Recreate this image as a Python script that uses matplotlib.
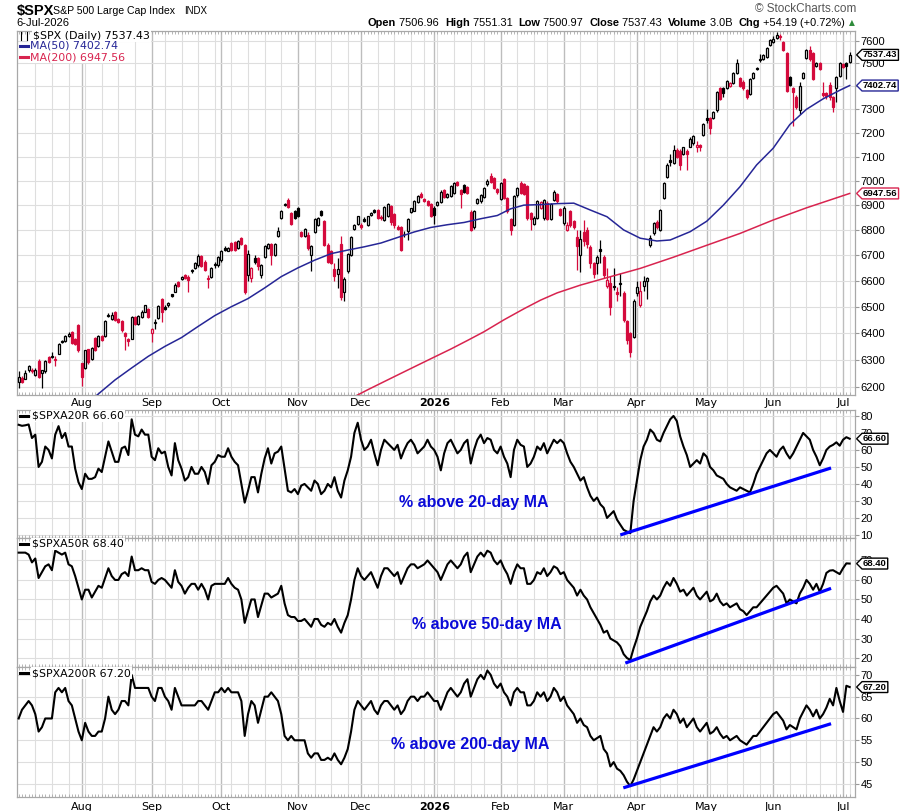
import numpy as np
import pandas as pd
import matplotlib
matplotlib.use("Agg")
import matplotlib.pyplot as plt
from matplotlib.path import Path
from matplotlib.lines import Line2D
from matplotlib.ticker import NullLocator
from matplotlib.transforms import blended_transform_factory as btf
from matplotlib import font_manager

plt.rcParams['font.family'] = ['DejaVu Sans']

# narrow bold for the value tags, if available
_names = {f.name for f in font_manager.fontManager.ttflist}
TAGFONT = 'Liberation Sans Narrow' if 'Liberation Sans Narrow' in _names else 'Liberation Sans'
TAGSIZE = 8.2 if TAGFONT == 'Liberation Sans Narrow' else 6.8

# --- trading calendar ---
holidays = ["2025-09-01", "2025-11-27", "2025-12-25", "2026-01-01", "2026-01-19",
            "2026-02-16", "2026-04-03", "2026-05-25", "2026-06-19", "2026-07-03"]
dates = pd.bdate_range("2025-07-07", "2026-07-06")
dates = dates[~dates.isin(pd.to_datetime(holidays))]

# --- $SPX daily candles ---
opens = [6218, 6233, 6230, 6263, 6264, 6245, 6294, 6250, 6257, 6310, 6310, 6300, 6323, 6370, 6370, 6390, 6405, 6377, 6430, 6287,
         6270, 6339, 6304, 6380, 6351, 6389, 6389, 6470, 6453, 6479, 6453, 6446, 6401, 6376, 6378, 6462, 6434, 6462, 6481, 6492,
         6401, 6438, 6457, 6531, 6497, 6505, 6548, 6557, 6596, 6606, 6624, 6615, 6640, 6649, 6660, 6695, 6675, 6612, 6615, 6664,
         6660, 6680, 6730, 6718, 6748, 6752, 6728, 6768, 6741, 6622, 6609, 6688, 6688, 6622, 6692, 6730, 6746, 6702, 6776, 6849,
         6905, 6922, 6868, 6876, 6889, 6790, 6775, 6780, 6700, 6792, 6820, 6876, 6835, 6741, 6715, 6646, 6627, 6744, 6557, 6636,
         6700, 6802, 6824, 6821, 6845, 6820, 6862, 6880, 6880, 6852, 6840, 6855, 6895, 6865, 6810, 6810, 6785, 6797, 6873, 6878,
         6913, 6945, 6925, 6915, 6906, 6890, 6900, 6914, 6960, 6932, 6936, 6950, 6994, 6960, 6983, 6975, 6873, 6810, 6909, 6915,
         6935, 6985, 7020, 7010, 6966, 6926, 7005, 6930, 6843, 6820, 6940, 6990, 6986, 6978, 6868, 6825, 6849, 6890, 6846, 6910,
         6842, 6920, 6945, 6885, 6828, 6800, 6876, 6835, 6770, 6700, 6793, 6800, 6733, 6668, 6668, 6725, 6694, 6578, 6590, 6580,
         6557, 6592, 6553, 6445, 6400, 6386, 6553, 6507, 6580, 6600, 6740, 6786, 6833, 6800, 6930, 7015, 7085, 7072, 7128, 7124,
         7110, 7124, 7142, 7156, 7140, 7148, 7190, 7262, 7262, 7262, 7296, 7391, 7393, 7393, 7400, 7415, 7456, 7434, 7420, 7383,
         7367, 7437, 7480, 7520, 7518, 7530, 7580, 7596, 7612, 7615, 7595, 7546, 7441, 7390, 7354, 7296, 7437, 7525, 7560, 7545,
         7488, 7503, 7370, 7370, 7405, 7354, 7392, 7445, 7498, 7500, 7506.96]
highs = [6257, 6240, 6263, 6282, 6268, 6270, 6302, 6263, 6300, 6313, 6330, 6313, 6361, 6374, 6392, 6404, 6408, 6382, 6434, 6290,
         6338, 6342, 6348, 6384, 6392, 6392, 6450, 6476, 6480, 6483, 6456, 6450, 6405, 6382, 6466, 6465, 6470, 6486, 6508, 6495,
         6419, 6453, 6506, 6535, 6505, 6518, 6550, 6590, 6600, 6620, 6628, 6622, 6645, 6672, 6705, 6700, 6680, 6622, 6652, 6675,
         6695, 6720, 6735, 6733, 6752, 6756, 6760, 6772, 6745, 6720, 6655, 6700, 6692, 6666, 6742, 6748, 6750, 6748, 6810, 6880,
         6910, 6930, 6872, 6880, 6893, 6795, 6806, 6790, 6740, 6846, 6853, 6880, 6840, 6750, 6720, 6670, 6688, 6775, 6616, 6708,
         6775, 6825, 6858, 6826, 6850, 6858, 6872, 6885, 6884, 6860, 6896, 6910, 6900, 6868, 6818, 6815, 6795, 6849, 6890, 6920,
         6940, 6953, 6930, 6920, 6910, 6895, 6918, 6960, 6965, 6950, 6982, 6996, 6998, 6965, 6988, 6980, 6880, 6880, 6928, 6945,
         6975, 7005, 7030, 7015, 6970, 6995, 7010, 6935, 6848, 6942, 6975, 6998, 6990, 6984, 6872, 6855, 6920, 6916, 6925, 6915,
         6908, 6960, 6950, 6890, 6895, 6830, 6880, 6840, 6800, 6800, 6840, 6810, 6740, 6675, 6700, 6760, 6700, 6650, 6620, 6650,
         6575, 6630, 6560, 6450, 6405, 6530, 6600, 6600, 6620, 6615, 6781, 6832, 6838, 6885, 6995, 7072, 7110, 7150, 7135, 7130,
         7142, 7130, 7180, 7190, 7165, 7152, 7240, 7300, 7266, 7292, 7380, 7396, 7398, 7428, 7418, 7462, 7520, 7440, 7425, 7388,
         7436, 7462, 7485, 7540, 7540, 7572, 7610, 7620, 7640, 7630, 7600, 7550, 7445, 7395, 7360, 7420, 7460, 7565, 7575, 7550,
         7505, 7508, 7420, 7374, 7420, 7358, 7445, 7505, 7502, 7505, 7551.31]
lows = [6196, 6214, 6228, 6255, 6250, 6239, 6234, 6196, 6253, 6288, 6307, 6276, 6320, 6362, 6368, 6386, 6360, 6356, 6330, 6205,
        6265, 6285, 6300, 6332, 6348, 6370, 6385, 6462, 6450, 6447, 6437, 6405, 6338, 6350, 6376, 6432, 6430, 6458, 6479, 6458,
        6365, 6414, 6453, 6440, 6486, 6500, 6538, 6555, 6575, 6603, 6605, 6557, 6630, 6645, 6655, 6652, 6637, 6570, 6612, 6649,
        6655, 6675, 6718, 6715, 6718, 6715, 6725, 6740, 6550, 6600, 6596, 6665, 6640, 6610, 6688, 6725, 6660, 6698, 6772, 6845,
        6895, 6888, 6820, 6845, 6850, 6770, 6770, 6722, 6636, 6788, 6815, 6858, 6738, 6670, 6665, 6600, 6570, 6527, 6522, 6630,
        6695, 6798, 6820, 6805, 6830, 6815, 6858, 6870, 6845, 6838, 6836, 6850, 6820, 6808, 6800, 6715, 6770, 6760, 6870, 6875,
        6910, 6930, 6912, 6895, 6850, 6825, 6896, 6910, 6930, 6928, 6932, 6946, 6980, 6890, 6950, 6945, 6795, 6805, 6905, 6910,
        6930, 6980, 6990, 6965, 6945, 6920, 6925, 6870, 6780, 6815, 6935, 6945, 6940, 6840, 6800, 6820, 6845, 6886, 6840, 6838,
        6838, 6915, 6910, 6855, 6820, 6795, 6812, 6805, 6640, 6635, 6735, 6730, 6650, 6610, 6625, 6668, 6610, 6570, 6468, 6565,
        6520, 6540, 6440, 6360, 6311, 6380, 6540, 6500, 6560, 6530, 6733, 6780, 6805, 6795, 6925, 7010, 7060, 7068, 7095, 7045,
        7105, 7045, 7138, 7150, 7120, 7125, 7185, 7240, 7196, 7258, 7290, 7340, 7355, 7388, 7395, 7410, 7452, 7395, 7385, 7345,
        7362, 7432, 7470, 7505, 7515, 7525, 7575, 7590, 7608, 7605, 7555, 7375, 7400, 7230, 7300, 7280, 7430, 7520, 7512, 7425,
        7484, 7470, 7355, 7345, 7340, 7290, 7330, 7440, 7480, 7430, 7500.97]
closes = [6237, 6219, 6251, 6276, 6260, 6263, 6236, 6261, 6294, 6292, 6315, 6302, 6360, 6365, 6388, 6398, 6364, 6360, 6336, 6236,
          6335, 6291, 6344, 6336, 6388, 6373, 6446, 6466, 6470, 6450, 6440, 6410, 6389, 6370, 6462, 6436, 6466, 6481, 6505, 6462,
          6414, 6442, 6502, 6479, 6492, 6514, 6540, 6583, 6580, 6615, 6609, 6602, 6636, 6668, 6697, 6657, 6643, 6608, 6649, 6660,
          6691, 6715, 6722, 6729, 6722, 6719, 6755, 6745, 6557, 6704, 6649, 6675, 6657, 6662, 6738, 6743, 6700, 6743, 6795, 6876,
          6900, 6892, 6825, 6849, 6855, 6775, 6802, 6730, 6735, 6842, 6849, 6862, 6741, 6675, 6670, 6618, 6644, 6537, 6605, 6704,
          6771, 6821, 6855, 6810, 6835, 6855, 6869, 6873, 6849, 6846, 6892, 6905, 6832, 6821, 6805, 6720, 6783, 6842, 6887, 6916,
          6937, 6935, 6918, 6900, 6855, 6862, 6914, 6955, 6935, 6945, 6978, 6992, 6984, 6947, 6955, 6950, 6800, 6876, 6923, 6940,
          6970, 6998, 6995, 6970, 6952, 6990, 6930, 6876, 6800, 6937, 6970, 6950, 6945, 6846, 6842, 6849, 6916, 6912, 6920, 6842,
          6903, 6955, 6916, 6862, 6889, 6821, 6818, 6810, 6735, 6765, 6755, 6745, 6668, 6625, 6694, 6718, 6623, 6603, 6500, 6577,
          6550, 6588, 6450, 6372, 6329, 6522, 6577, 6560, 6600, 6612, 6768, 6826, 6813, 6880, 6990, 7066, 7078, 7128, 7100, 7065,
          7138, 7110, 7175, 7185, 7150, 7142, 7237, 7255, 7222, 7288, 7376, 7346, 7371, 7423, 7412, 7456, 7500, 7400, 7390, 7354,
          7430, 7456, 7474, 7515, 7535, 7567, 7604, 7610, 7625, 7620, 7560, 7380, 7405, 7376, 7310, 7400, 7456, 7560, 7518, 7430,
          7500, 7475, 7362, 7358, 7354, 7310, 7441, 7500, 7485, 7490, 7537.43]

# moving averages (read at roughly weekly steps)
ma50_idx = [23, 29, 34, 39, 44, 49, 54, 59, 64, 69, 74, 79, 84, 89, 94, 99, 104, 109, 114, 119, 124, 129, 134,
            139, 144, 148, 152, 157, 162, 167, 172, 177, 182, 187, 192, 196, 202, 207, 212, 217, 222, 227, 232,
            237, 242, 247, 250]
ma50_val = [6165, 6226, 6270, 6313, 6350, 6383, 6425, 6466, 6500, 6531, 6572, 6616, 6650, 6680, 6706, 6720, 6733,
            6748, 6770, 6792, 6810, 6821, 6830, 6845, 6858, 6885, 6900, 6902, 6906, 6908, 6880, 6853, 6800, 6767,
            6756, 6760, 6793, 6835, 6900, 6975, 7065, 7135, 7235, 7300, 7345, 7382, 7402.74]
ma200_idx = [101, 105, 110, 115, 120, 125, 130, 135, 140, 146, 152, 157, 162, 169, 177, 187, 197, 207, 217, 227, 237, 250]
ma200_val = [6165, 6190, 6220, 6250, 6280, 6310, 6340, 6372, 6405, 6450, 6492, 6525, 6553, 6583, 6612, 6648, 6692,
             6739, 6786, 6840, 6889, 6947.56]

# --- breadth: % of S&P 500 stocks above moving average ---
a20 = [74.8, 74.2, 74.5, 75, 67, 69, 50, 53, 62, 60, 55, 69, 74, 67, 70, 62, 62, 49, 41, 37,
       46, 43, 43, 44, 49, 47, 56, 65, 59, 53, 53, 61, 62, 57, 78, 69, 68, 72, 69, 69,
       56, 54, 61, 58, 59, 50, 45, 64, 54, 49, 42, 44, 50, 46, 46, 50, 47, 40, 51, 53,
       57, 56, 56, 61, 56, 53, 51, 40, 29, 36, 44, 44, 35, 46, 55, 61, 52, 58, 59, 62,
       49, 36, 35, 37, 34, 39, 40, 38, 36, 42, 40, 34, 36, 40, 38, 44, 36, 32, 42, 48,
       56, 70, 76, 66, 60, 62, 66, 58, 51, 60, 66, 64, 62, 60, 63, 55, 60, 64, 66, 63,
       58, 60, 62, 66, 62, 60, 56, 48, 58, 64, 66, 62, 58, 60, 64, 66, 52, 60, 66, 69,
       64, 67, 66, 60, 58, 62, 56, 52, 44, 60, 66, 63, 62, 50, 52, 56, 62, 60, 64, 58,
       62, 66, 64, 66, 64, 58, 53, 50, 46, 42, 44, 38, 33, 30, 32, 28, 26, 20, 22, 24,
       19, 16, 13, 12, 11, 30, 42, 54, 62, 66, 72, 70, 66, 65, 70, 74, 78, 80, 77, 68,
       62, 57, 50, 52, 54, 52, 58, 56, 50, 48, 45, 44, 43, 40, 38, 37, 36, 38, 37, 36,
       35, 40, 46, 50, 54, 58, 60, 58, 56, 60, 62, 58, 55, 58, 62, 66, 70, 68, 66, 60,
       56, 51, 55, 60, 62, 63, 64.5, 62.5, 66, 67.5, 66.6]
a50 = [74, 74, 74, 73, 69, 71, 61, 64, 67, 68, 65, 75, 74, 73, 74, 68, 67, 62, 56, 50,
       55, 55, 51, 54, 57, 56, 61, 66, 62, 60, 60, 63, 64, 62, 72, 65, 65, 66, 65, 65,
       59, 58, 60, 61, 60, 58, 56, 65, 59, 57, 53, 56, 58, 58, 55, 58, 55, 50, 57, 58,
       58, 58, 58, 61, 58, 56, 55, 50, 38, 44, 50, 50, 41, 47, 53, 53, 51, 52, 53, 57,
       48, 42, 41, 41, 39, 39, 40, 38, 36, 40, 40, 37, 36, 38, 37, 40, 36, 33, 38, 42,
       50, 60, 66, 62, 60, 62, 64, 60, 56, 62, 66, 66, 64, 62, 64, 58, 62, 66, 68, 68,
       66, 67, 68, 70, 68, 66, 64, 60, 64, 68, 70, 68, 66, 68, 72, 74, 64, 68, 72, 74,
       72, 75, 74, 70, 68, 70, 66, 63, 58, 64, 68, 66, 66, 58, 58, 60, 64, 63, 66, 62,
       64, 67, 66, 63, 64, 60, 58, 56, 52, 55, 52, 50, 46, 43, 40, 37, 33, 34, 30, 29,
       28, 26, 22, 20, 19, 25, 30, 36, 40, 44, 49, 52, 50, 52, 56, 59, 57, 61, 58, 54,
       55, 52, 54, 56, 52, 50, 52, 54, 49, 50, 53, 49, 47, 48, 46, 47, 48, 45, 44, 42,
       44, 46, 46, 48, 50, 52, 54, 56, 57, 55, 53, 48, 50, 49, 48, 53, 56, 60, 58, 55,
       58, 54, 58, 63.6, 64.8, 65, 64, 63, 66, 68.5, 68.4]
a200 = [60, 62, 63, 64, 63, 61, 57, 58, 60, 60, 60, 66, 67, 66, 67, 64, 63, 60, 57, 55,
        59, 57, 56, 56, 57, 57, 60, 65, 62, 61, 62, 64, 64, 63, 70, 67, 67, 67, 67, 67,
        65, 64, 67, 67, 65, 64, 62, 67, 65, 63, 63, 63, 63, 63, 64, 64, 63, 62, 64, 66,
        66, 67, 66, 67, 66, 66, 66, 64, 56, 61, 64, 63, 59, 62, 65, 65, 66, 65, 64, 61,
        56, 55, 56, 55, 55, 55, 55, 52, 51, 52, 52, 50.5, 50.5, 51, 50.5, 52, 50.5, 49.5, 51, 53,
        57, 62, 64, 63, 62, 63, 64, 62, 61, 63, 64, 64, 63, 62, 63, 61, 62, 64, 65, 65,
        64, 65, 65, 66, 65, 64, 64, 62, 64, 66, 67, 66, 65, 66, 68, 69, 65, 67, 69, 70,
        69, 71, 70, 68, 67, 68, 66, 65, 63, 66, 67, 66, 66, 63, 63, 64, 66, 65, 66, 64,
        65, 67, 66, 64, 65, 63, 62, 61, 59, 60, 58.5, 58, 56, 55, 55.5, 56, 53, 52, 49, 50,
        48.5, 48, 47, 45.5, 44.5, 46, 48, 50, 52, 54, 56, 58, 57, 58, 60, 61, 60, 62, 61, 59,
        60, 58, 59, 60, 58, 57, 58, 59, 56.5, 57, 58, 56.5, 55.5, 56, 55, 55.5, 56, 55, 54.5, 54,
        55, 56, 56, 57, 58, 59, 60, 61, 61.5, 60.5, 59.5, 57.5, 58.5, 58, 57.5, 60, 61.5, 63, 62, 60.5,
        62, 60, 61, 62.5, 64.5, 63, 67, 64, 61.5, 67.5, 67.2]

# hand-drawn trendlines (bar index, value)
trend20 = ([181, 244.4], [10, 49.4])
trend50 = ([182.5, 244.4], [17.4, 55.7])
trend200 = ([181.9, 244.4], [44.1, 58.8])

RED = '#d40a3c'
GRID = '#dedede'
MGRID = '#bdbdbd'
W, H = 900, 811

fig = plt.figure(figsize=(9, 8.11), dpi=100)


def rect(x0, y0, x1, y1):
    return [x0 / W, 1 - y1 / H, (x1 - x0) / W, (y1 - y0) / H]


ax1 = fig.add_axes(rect(17, 31, 855, 395))
ax2 = fig.add_axes(rect(17, 410, 855, 538))
ax3 = fig.add_axes(rect(17, 538, 855, 667))
ax4 = fig.add_axes(rect(17, 667, 855, 797))
axes = [ax1, ax2, ax3, ax4]

n = len(closes)
x = np.arange(n)
month_idx = [i for i in range(1, n) if dates[i].month != dates[i - 1].month]
week_idx = [i for i in range(1, n) if dates[i].weekday() < dates[i - 1].weekday() and i not in month_idx]
month_lbl = ['2026' if dates[i].month == 1 else dates[i].strftime('%b') for i in month_idx]

for ax in axes:
    ax.set_xlim(-0.5, 251.6)
    for i in week_idx:
        ax.axvline(i, color=GRID, lw=0.8, zorder=0)
    for i in month_idx:
        ax.axvline(i, color=MGRID, lw=1.0, zorder=0)
    ax.set_xticks(x, minor=True)
    ax.set_xticks([])
    ax.tick_params(axis='x', which='minor', length=2, color='#aaaaaa', width=0.6, direction='in', top=True)
    ax.yaxis.tick_right()
    ax.tick_params(axis='y', which='major', length=3, color='#999999', labelsize=8, pad=1)
    for s in ax.spines.values():
        s.set_color('#a8a8a8')
        s.set_linewidth(0.9)

# --- price panel ---
o, h, l, c = (np.array(v, float) for v in (opens, highs, lows, closes))
prev = np.r_[c[0], c[:-1]]
col = np.where(c >= prev, 'black', RED)
face = np.where(c >= o, 'white', col)
lo = np.minimum(o, c)
hi = np.maximum(o, c)
hi = np.maximum(hi, lo + 2.5)
ax1.vlines(x, l, h, colors=col, lw=0.9, zorder=2)
ax1.bar(x, hi - lo, bottom=lo, width=0.6, color=face, edgecolor=col, linewidth=0.9, zorder=3)
ax1.plot(ma50_idx, ma50_val, color='#262696', lw=1.1, zorder=4)
ax1.plot(ma200_idx, ma200_val, color='#d8244f', lw=1.1, zorder=4)

ax1.set_yscale('log')
ax1.set_ylim(6171, 7644)
pticks = list(range(6200, 7601, 100))
ax1.set_yticks(pticks)
ax1.set_yticklabels([str(t) for t in pticks], family='Liberation Sans', fontsize=8)
ax1.yaxis.set_minor_locator(NullLocator())
for t in pticks:
    ax1.axhline(t, color=GRID, lw=0.8, zorder=0)

# --- breadth panels ---
panels = [(ax2, a20, (8.2, 83.5), range(10, 81, 10), trend20),
          (ax3, a50, (15.4, 81.5), range(20, 71, 10), trend50),
          (ax4, a200, (42, 71.8), range(45, 71, 5), trend200)]
for ax, vals, lim, ticks, tr in panels:
    ax.plot(x, vals, color='black', lw=1.5, zorder=3)
    ax.plot(tr[0], tr[1], color='#0000ff', lw=2.3, zorder=4, solid_capstyle='butt')
    ax.set_ylim(*lim)
    ax.set_yticks(list(ticks))
    ax.set_yticklabels([str(t) for t in ticks], family='Liberation Sans', fontsize=8)
    for t in ticks:
        ax.axhline(t, color=GRID, lw=0.8, zorder=0)

# month labels
for i, lb in zip(month_idx, month_lbl):
    bold = 'bold' if lb == '2026' else 'normal'
    ax1.text(i, -0.022, lb, transform=ax1.get_xaxis_transform(), ha='center', va='center',
             fontsize=8, fontweight=bold)
    ax4.text(i, -0.075, lb, transform=ax4.get_xaxis_transform(), ha='center', va='center',
             fontsize=8, fontweight=bold, clip_on=False)


# value tags on the right axis
def tag_style(x0, y0, width, height, mutation_size):
    pad = 0.1 * mutation_size
    x0, y0 = x0 - pad, y0 - pad
    width, height = width + 2 * pad, height + 2 * pad
    tip = height * 0.5
    return Path([(x0, y0), (x0 + width, y0), (x0 + width, y0 + height), (x0, y0 + height),
                 (x0 - tip, y0 + height / 2), (x0, y0)], closed=True)


def tag(ax, y, s, ec):
    ax.text(1 + 8 / 838, y, s, transform=btf(ax.transAxes, ax.transData), ha='left', va='center',
            fontsize=TAGSIZE, fontweight='bold', family=TAGFONT, clip_on=False, zorder=10,
            bbox=dict(boxstyle=tag_style, fc='white', ec=ec, lw=1.0))


tag(ax1, 7537.43, '7537.43', 'black')
tag(ax1, 7402.74, '7402.74', '#262696')
tag(ax1, 6947.56, '6947.56', '#d8244f')
tag(ax2, 66.60, '66.60', 'black')
tag(ax3, 68.40, '68.40', 'black')
tag(ax4, 67.20, '67.20', 'black')


def ftext(px, py, s, **kw):
    return fig.text(px / W, 1 - py / H, s, **kw)


def fdash(px0, px1, py, color):
    fig.add_artist(Line2D([px0 / W, px1 / W], [1 - py / H, 1 - py / H], color=color, lw=2.2,
                          transform=fig.transFigure, zorder=6))


# legends
lg = dict(fontsize=7.9, va='center', ha='left', zorder=5,
          bbox=dict(boxstyle='square,pad=0.12', fc='white', ec='none'))
ftext(33, 36, '$SPX (Daily) 7537.43', **lg)
ftext(29.5, 46, 'MA(50) 7402.74', color='#262696', **lg)
ftext(29.5, 57, 'MA(200) 6947.56', color='#d8244f', **lg)
fdash(20, 28, 46, '#262696')
fdash(20, 28, 57, '#d8244f')
fig.add_artist(Line2D([21 / W, 21 / W], [1 - 32 / H, 1 - 40 / H], color='black', lw=0.8, transform=fig.transFigure, zorder=6))
fig.add_artist(Line2D([27 / W, 27 / W], [1 - 32 / H, 1 - 40 / H], color='black', lw=0.8, transform=fig.transFigure, zorder=6))
ftext(32, 416, '$SPXA20R 66.60', **lg)
ftext(32, 544, '$SPXA50R 68.40', **lg)
ftext(32, 673, '$SPXA200R 67.20', **lg)
for py in (416, 544, 673):
    fdash(20, 28, py, 'black')

# annotations
ann = dict(fontsize=11.5, fontweight='bold', color='#0a0ad8', ha='center', va='center', family='Liberation Sans')
ftext(474, 503, '% above 20-day MA', **ann)
ftext(487, 624, '% above 50-day MA', **ann)
ftext(470, 745, '% above 200-day MA', **ann)

# header
ftext(17, 11.5, '$SPX', fontsize=10.5, fontweight='bold', family='Liberation Sans', va='center')
ftext(53, 11.5, 'S&P 500 Large Cap Index', fontsize=7.6, family='Liberation Sans', va='center')
ftext(184, 11.5, 'INDX', fontsize=7, family='Liberation Sans', va='center')
ftext(16, 22.5, '6-Jul-2026', fontsize=8, family='Liberation Sans', va='center')
ftext(856, 9, '\u00a9 StockCharts.com', fontsize=8.5, family='Liberation Sans', color='#555555',
      va='center', ha='right')

parts = [('Open', True), (' 7506.96  ', False), ('High', True), (' 7551.31  ', False),
         ('Low', True), (' 7500.97  ', False), ('Close', True), (' 7537.43  ', False),
         ('Volume', True), (' 3.0B  ', False), ('Chg', True), (' +54.19 (+0.72%)', False)]
r = fig.canvas.get_renderer()
xp = 368
for s, b in parts:
    t = ftext(xp, 22.5, s, fontsize=7.9, family='Liberation Sans', fontweight='bold' if b else 'normal',
              va='center', ha='left')
    xp += t.get_window_extent(renderer=r).width
ftext(xp + 4, 22.5, '\u25b2', fontsize=5.5, color='#2e8b3a', va='center', ha='left')

fig.savefig('out.png', dpi=100, facecolor='white')
